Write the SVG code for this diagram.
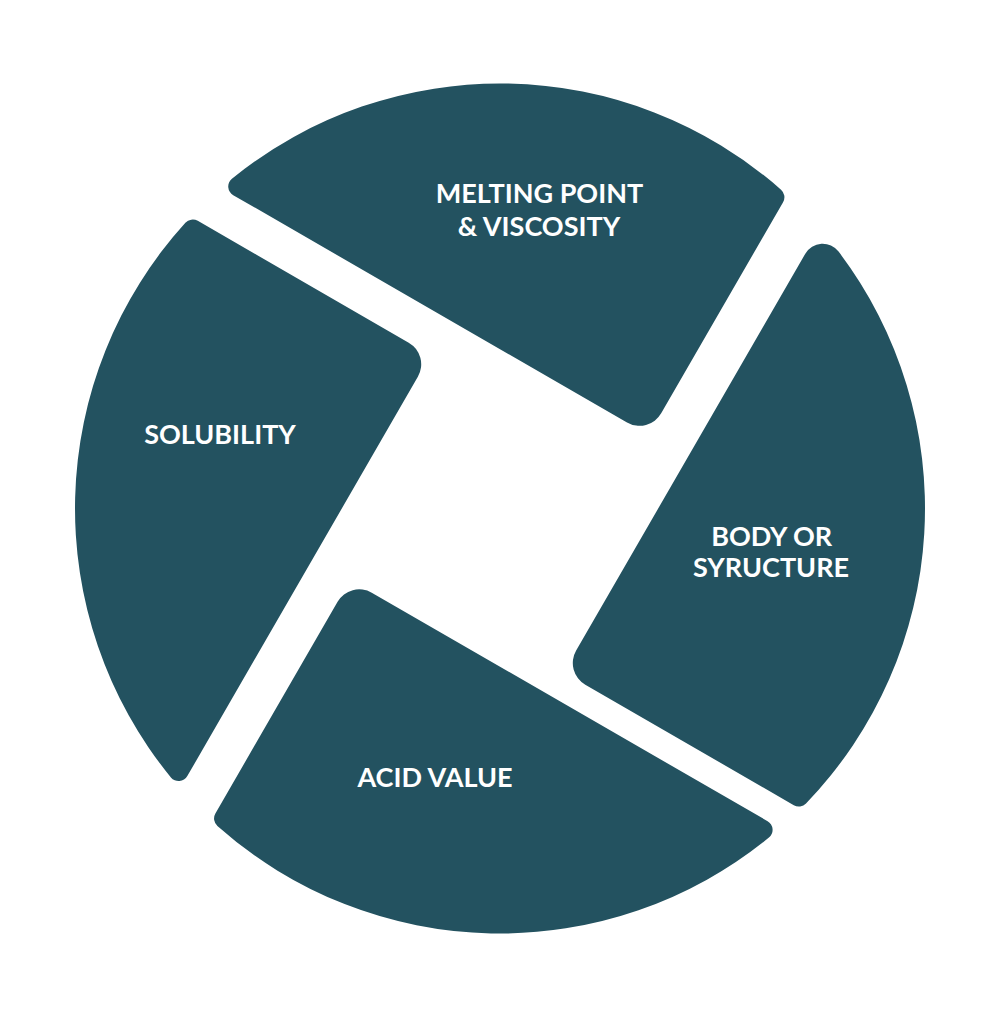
<svg xmlns="http://www.w3.org/2000/svg" width="1000" height="1017" viewBox="0 0 1000 1017">
<style>
.piece{fill:#235260}
.lbl{fill:#ffffff;font-family:Lato,"Open Sans","Liberation Sans",sans-serif;font-weight:700;font-size:27px;text-anchor:middle}
</style>
<rect width="1000" height="1017" fill="#ffffff"/>
<g id="connectors"></g>
<g id="melting">
<path class="piece" transform="translate(500,508.5) rotate(30)" d="M67,-138 L-387.71,-138 A10 10 0 0 1 -397.05,-151.57 A425 425 0 0 1 83.98,-416.62 A10 10 0 0 1 92,-406.82 L92,-163 A25 25 0 0 1 67,-138 Z"/>
<text class="lbl" x="539.5" y="202.7">MELTING POINT</text>
<text class="lbl" x="539" y="235.7">&amp; VISCOSITY</text>
</g>
<g id="body">
<path class="piece" transform="translate(500,508.5) rotate(30)" d="M137,85 L137,-373.33 A20 20 0 0 1 164.75,-391.77 A425 425 0 0 1 412.48,102.41 A10 10 0 0 1 402.77,110 L162,110 A25 25 0 0 1 137,85 Z"/>
<text class="lbl" x="771.7" y="545.7">BODY OR</text>
<text class="lbl" x="771" y="576.7">SYRUCTURE</text>
</g>
<g id="acid">
<path class="piece" transform="translate(500,508.5) rotate(30)" d="M-94,162 A25 25 0 0 1 -69,137 L388.09,137 A10 10 0 0 1 397.44,150.54 A425 425 0 0 1 -86.02,416.2 A10 10 0 0 1 -94,406.41 Z"/>
<text class="lbl" x="435" y="787.3">ACID VALUE</text>
</g>
<g id="solubility">
<path class="piece" transform="translate(500,508.5) rotate(30)" d="M-162,-98 A25 25 0 0 1 -137,-73 L-137,388.09 A10 10 0 0 1 -150.54,397.44 A425 425 0 0 1 -415.33,-90.12 A10 10 0 0 1 -405.56,-98 Z"/>
<text class="lbl" x="220" y="444">SOLUBILITY</text>
</g>
</svg>
